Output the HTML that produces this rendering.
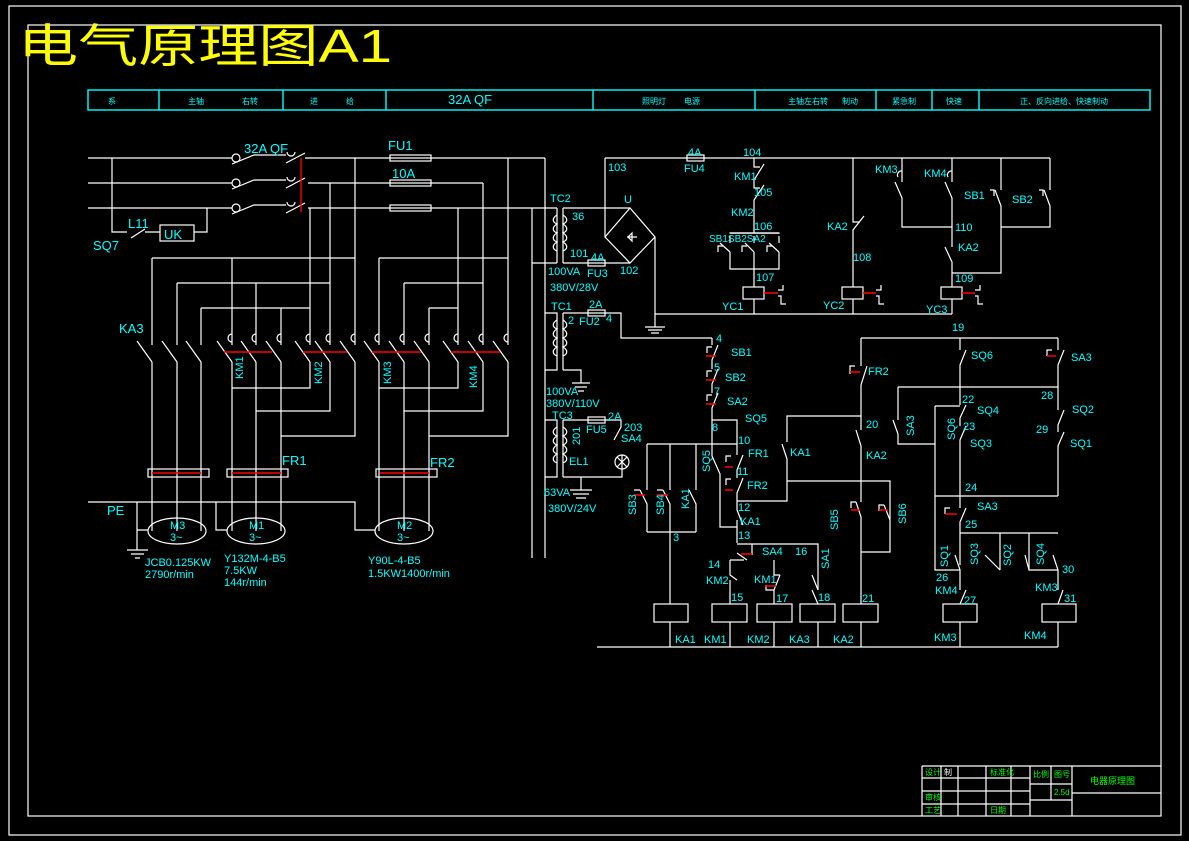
<!DOCTYPE html>
<html><head><meta charset="utf-8"><style>
html,body{margin:0;padding:0;background:#000;}
svg{display:block;}
text{font-family:"Liberation Sans","Noto Sans CJK SC",sans-serif;fill:#00ffff;font-size:11px;}
.w{stroke:#fff;stroke-width:1.2;fill:none;}
.r{stroke:#ff0000;stroke-width:1.4;fill:none;}
.c{stroke:#00ffff;stroke-width:1.4;fill:none;}
.g{fill:#00ff00;font-size:8px;}
.h{font-size:8px;}
</style></head><body>
<svg width="1189" height="841" viewBox="0 0 1189 841" xmlns="http://www.w3.org/2000/svg">
<rect x="0" y="0" width="1189" height="841" fill="#000"/>
<!-- frames -->
<rect class="w" x="9" y="6" width="1172" height="829"/>
<rect class="w" x="28" y="25" width="1133" height="791"/>
<text x="18" y="62" style="fill:#ffff00;font-size:46px;" textLength="374" lengthAdjust="spacingAndGlyphs">电气原理图A1</text>

<!-- header table -->
<rect class="c" x="88" y="90" width="1062" height="20"/>
<path class="c" d="M159,90V110M283,90V110M386,90V110M593,90V110M755,90V110M876,90V110M932,90V110M979,90V110"/>
<text class="h" x="108" y="104">系</text>
<text class="h" x="188" y="104">主轴</text><text class="h" x="242" y="104">右转</text>
<text class="h" x="310" y="104">进</text><text class="h" x="346" y="104">给</text>
<text x="448" y="104" style="font-size:13px">32A  QF</text>
<text class="h" x="642" y="104">照明灯</text><text class="h" x="684" y="104">电源</text>
<text class="h" x="788" y="104">主轴左右转</text><text class="h" x="842" y="104">制动</text>
<text class="h" x="892" y="104">紧急制</text>
<text class="h" x="946" y="104">快速</text>
<text class="h" x="1020" y="104">正、反向进给、快速制动</text>

<!-- power buses -->
<path class="w" d="M88,158H232M88,183H232M88,208H232"/>
<g class="w">
<circle cx="236" cy="158" r="4"/><circle cx="236" cy="183" r="4"/><circle cx="236" cy="208" r="4"/>
<path d="M232,164L254,155H286M232,189L254,180H286M232,214L254,205H286"/>
<path d="M286,163L305,153M286,188L305,178M286,213L305,203"/>
<path d="M287,152a4,4 0 0 0 8,0M287,177a4,4 0 0 0 8,0M287,202a4,4 0 0 0 8,0"/>
<path d="M305,158H545M308,183H483M308,208H532"/>
<path d="M545,158V558M532,208V558"/>
<path d="M112,158V232H127M131,238L145,229M145,232H160M194,232H207V208"/>
<rect x="160" y="225" width="34" height="16"/>
</g>
<path class="r" d="M301,158V212"/>
<g fill="#000" class="w"><rect x="390" y="155" width="41" height="6"/><rect x="390" y="180" width="41" height="6"/><rect x="390" y="205" width="41" height="6"/></g>
<text x="244" y="153" style="font-size:13px">32A  QF</text>
<text x="388" y="150" style="font-size:13px">FU1</text>
<text x="392" y="178" style="font-size:13px">10A</text>
<text x="128" y="228" style="font-size:13px">L11</text>
<text x="164" y="239" style="font-size:13px">UK</text>
<text x="93" y="250" style="font-size:13px">SQ7</text>

<!-- drops and feeders -->
<path class="w" d="M355,158V345M330,183V345M310,208V345M508,158V345M483,183V345M458,208V345
M152,258H355M379,258H508M177,283H330M404,283H483M201,308H310M429,308H458
M152,258V345M177,283V345M201,308V345M232,258V345M256,283V345M281,308V345
M379,258V345M404,283V345M429,308V345"/>
<!-- contacts blades -->
<g class="w">
<path d="M137,341L152,362M162,341L177,362M186,341L201,362"/>
<path d="M217,341L232,362M241,341L256,362M266,341L281,362M295,341L310,362M315,341L330,362M340,341L355,362"/>
<path d="M364,341L379,362M389,341L404,362M414,341L429,362M443,341L458,362M468,341L483,362M493,341L508,362"/>
<path d="M232,334a4,4 0 0 0 0,8M256,334a4,4 0 0 0 0,8M281,334a4,4 0 0 0 0,8M310,334a4,4 0 0 0 0,8M330,334a4,4 0 0 0 0,8M355,334a4,4 0 0 0 0,8M379,334a4,4 0 0 0 0,8M404,334a4,4 0 0 0 0,8M429,334a4,4 0 0 0 0,8M458,334a4,4 0 0 0 0,8M483,334a4,4 0 0 0 0,8M508,334a4,4 0 0 0 0,8"/>
<path d="M152,362V531M177,362V531M201,362V531M232,362V531M256,362V531M281,362V531M379,362V531M404,362V531M429,362V531"/>
<path d="M310,362V388H232M330,362V411H256M355,362V436H281M458,362V388H379M483,362V411H404M508,362V436H429"/>
<rect x="148" y="469" width="61" height="8"/><rect x="227" y="469" width="61" height="8"/><rect x="376" y="469" width="61" height="8"/>
<path d="M88,502H355V530H375M137,502V550M137,530H148M216,502V530H227"/>
<path d="M127,550H148M131,554H144M135,558H140"/>
<ellipse cx="177" cy="531" rx="29" ry="13"/><ellipse cx="256" cy="531" rx="29" ry="13"/><ellipse cx="404" cy="531" rx="29" ry="13"/>
</g>
<path class="r" d="M224,352H272M303,352H347M372,352H421M451,352H500M152,473H201M232,473H281M380,473H429"/>
<text x="119" y="333" style="font-size:13px">KA3</text>
<text x="282" y="465" style="font-size:13px">FR1</text>
<text x="430" y="467" style="font-size:13px">FR2</text>
<text x="107" y="515" style="font-size:13px">PE</text>
<text transform="translate(243,379) rotate(-90)">KM1</text>
<text transform="translate(322,384) rotate(-90)">KM2</text>
<text transform="translate(391,384) rotate(-90)">KM3</text>
<text transform="translate(477,388) rotate(-90)">KM4</text>
<text x="170" y="529">M3</text><text x="170" y="541">3~</text>
<text x="249" y="529">M1</text><text x="249" y="541">3~</text>
<text x="397" y="529">M2</text><text x="397" y="541">3~</text>
<text x="145" y="566">JCB0.125KW</text><text x="145" y="578">2790r/min</text>
<text x="224" y="562">Y132M-4-B5</text><text x="224" y="574">7.5KW</text><text x="224" y="586">144r/min</text>
<text x="368" y="564">Y90L-4-B5</text><text x="368" y="577">1.5KW1400r/min</text>

<!-- transformers -->
<g class="w">
<path d="M532,208H557M532,263H557M557,208V263M563,208V263M545,313H557V370H545M563,313V370M545,420H557V477H545M563,420V477"/>
<path d="M557,215c-5,3 -5,7 0,9c-5,3 -5,7 0,9c-5,3 -5,7 0,9c-5,3 -5,7 0,9M563,215c5,3 5,7 0,9c5,3 5,7 0,9c5,3 5,7 0,9c5,3 5,7 0,9"/>
<path d="M557,320c-5,3 -5,7 0,9c-5,3 -5,7 0,9c-5,3 -5,7 0,9c-5,3 -5,7 0,9M563,320c5,3 5,7 0,9c5,3 5,7 0,9c5,3 5,7 0,9c5,3 5,7 0,9"/>
<path d="M557,427c-5,3 -5,7 0,9c-5,3 -5,7 0,9c-5,3 -5,7 0,9c-5,3 -5,7 0,9M563,427c5,3 5,7 0,9c5,3 5,7 0,9c5,3 5,7 0,9c5,3 5,7 0,9"/>
<path d="M563,208H630M563,263H630M605,158V237M630,208L605,237L630,263L655,237ZM655,237V314H952M645,327H665M648,330H662M651,333H659M655,314V327"/>
<path d="M627,237H637M632,233L628,237L632,241ZM632,233V241"/>
<path d="M563,313H621V338H712M563,370H581V383M572,383H590M575,387H587M578,391H584"/>
<path d="M563,420H621V427L614,440M622,455V477H563M581,477V490M570,490H592M573,494H589M576,498H586"/>
<circle cx="622" cy="462" r="7"/><path d="M617,457L627,467M627,457L617,467"/>
<path d="M605,158H1050"/>
</g>
<g fill="#000" class="w"><rect x="588" y="260" width="17" height="6"/><rect x="588" y="310" width="17" height="6"/><rect x="588" y="417" width="17" height="6"/><rect x="687" y="155" width="17" height="6"/></g>
<text x="550" y="202">TC2</text><text x="572" y="220">36</text><text x="570" y="257">101</text>
<text x="591" y="261">4A</text><text x="587" y="277">FU3</text><text x="620" y="274">102</text>
<text x="548" y="275">100VA</text><text x="550" y="291">380V/28V</text>
<text x="624" y="203">U</text><text x="608" y="171">103</text>
<text x="688" y="156">4A</text><text x="684" y="172">FU4</text><text x="743" y="156">104</text>
<text x="551" y="310">TC1</text><text x="589" y="308">2A</text><text x="568" y="324">2</text><text x="579" y="325">FU2</text><text x="606" y="322">4</text>
<text x="546" y="395">100VA</text><text x="546" y="407">380V/110V</text>
<text x="552" y="419">TC3</text><text x="608" y="420">2A</text><text x="586" y="433">FU5</text><text x="624" y="431">203</text><text x="621" y="442">SA4</text>
<text transform="translate(580,445) rotate(-90)">201</text><text x="569" y="465">EL1</text>
<text x="544" y="496">63VA</text><text x="548" y="512">380V/24V</text>

<!-- top control -->
<g class="w">
<path d="M754,158V167H760M764,164L754,180V188H760M764,185L754,200V233"/>
<rect x="730" y="233" width="49" height="0.1"/>
<path d="M730,233H779M730,236V243M754,236V243M779,236V243M730,252L720,243M754,252L745,243M779,252L769,243M730,252V269H779V252M754,252V287M723,246H718V252M747,246H742V252M772,246H767V252"/>
<rect x="743" y="287" width="21" height="12"/><path d="M754,299V314"/>
<path d="M853,158V222H860M864,216L853,230V287"/><rect x="842" y="287" width="21" height="12"/><path d="M853,299V314"/>
<path d="M902,158V182M895,182L902,198V227H952M952,158V182M945,182L952,198V247M945,247L952,262V287"/><rect x="941" y="287" width="21" height="12"/><path d="M952,299V314"/>
<path d="M1001,158V190M995,190L1001,206V273H952M1050,158V190M1044,190L1050,206V227H1001"/>
<path d="M898,177a4,4 0 0 1 4,-6M948,177a4,4 0 0 1 4,-6"/>
<path d="M990,190h4v6M1039,190h4v6"/>
<path d="M778,290h5v-5M778,296h3v8h5M876,290h5v-5M876,296h3v8h5M975,290h5v-5M975,296h3v8h5"/>
</g>
<path class="r" d="M764,293H778M863,293H876M962,293H975"/>
<text x="734" y="180">KM1</text><text x="754" y="196">105</text><text x="731" y="216">KM2</text><text x="754" y="230">106</text>
<text x="709" y="242" style="font-size:10px">SB1SB2SA2</text>
<text x="756" y="281">107</text><text x="722" y="310">YC1</text>
<text x="827" y="230">KA2</text><text x="853" y="261">108</text><text x="823" y="309">YC2</text>
<text x="875" y="173">KM3</text><text x="924" y="177">KM4</text><text x="964" y="199">SB1</text><text x="1012" y="203">SB2</text>
<text x="955" y="231">110</text><text x="958" y="251">KA2</text><text x="955" y="282">109</text><text x="926" y="313">YC3</text>

<!-- lower control -->
<g class="w">
<path d="M712,338V345M718,345L712,360V369M718,369L712,384V393M718,393L712,408V420H737V425L737,440V444"/>
<path d="M647,444H737M712,420V456L720,474V527H737"/>
<path d="M647,444V490M640,490L647,504V532M670,444V490M663,490L670,504V532M696,444V490M689,490L696,504V532M647,532H696M670,532V604"/>
<path d="M737,444V455M743,455L737,470V478M743,478L737,493V505M737,505V510L743,525M737,520V543"/>
<path d="M737,501H787V459L782,444M787,442V416H861"/>
<path d="M787,481H890V520M890,520L884,505M890,520V552H861"/>
<path d="M861,338H1058M861,338V366M867,366L861,385V430M856,430L861,446V502M856,502L861,517V604"/>
<path d="M737,544H818V590M812,590L818,604M752,544V555M737,553L747,560M730,560H744M730,560V575L737,580M730,580V604M774,560V575H780M780,575L774,590V604"/>
<path d="M818,590L812,575"/>
<rect x="654" y="604" width="34" height="18"/><rect x="712" y="604" width="35" height="18"/><rect x="757" y="604" width="35" height="18"/><rect x="800" y="604" width="35" height="18"/><rect x="843" y="604" width="35" height="18"/>
<rect x="943" y="604" width="34" height="18"/><rect x="1042" y="604" width="34" height="18"/>
<path d="M597,647H1058M670,622V647M730,622V647M774,622V647M818,622V647M861,622V647M960,622V647M1058,622V647"/>
<path d="M960,338V350M966,350L960,365V387M1058,338V350M1064,350L1058,365V387M898,387H1058M898,387V420M893,420L898,434V444H935M935,406V570H960V586M960,406H935"/>
<path d="M960,387V405M966,405L960,418V426M966,426L960,440V496M1058,387V410M1064,410L1058,425V432M1064,432L1058,446V496M935,496H1058M960,496V508M966,508L960,522V533H1058M960,533V565M1000,533V570M1029,533V570H1058M985,555L1000,570M955,555L960,570M1025,555L1029,570M1053,555L1058,570V590M1063,590L1058,604M960,586V590M966,590L960,604"/>
<path d="M712,347h-5v6M712,371h-5v6M712,395h-5v6M731,456h-5v6M731,479h-5v6M640,490h-6M663,490h-6M855,366h-5v8M856,502h-5v6M884,505h-5v6M1052,350h-5v6M950,508h-5v6M774,590h-8v-5"/>
</g>
<path class="r" d="M706,356H716M706,380H716M706,404H716M634,495H645M657,495H668M725,467H733M725,490H733M850,372H860M851,510H860M879,510H888M1047,356H1056M945,514H957M741,554H752M765,586H776"/>
<text x="716" y="342">4</text><text x="731" y="356">SB1</text><text x="714" y="371">5</text><text x="725" y="381">SB2</text><text x="714" y="395">7</text><text x="727" y="405">SA2</text>
<text x="712" y="431">8</text><text x="745" y="422">SQ5</text><text x="738" y="444">10</text>
<text x="748" y="457">FR1</text><text x="737" y="475">11</text><text x="747" y="489">FR2</text><text x="738" y="511">12</text><text x="740" y="525">KA1</text><text x="738" y="539">13</text>
<text transform="translate(710,472) rotate(-90)">SQ5</text>
<text x="790" y="456">KA1</text><text x="866" y="428">20</text><text x="866" y="459">KA2</text><text x="868" y="375">FR2</text>
<text transform="translate(636,515) rotate(-90)">SB3</text><text transform="translate(664,515) rotate(-90)">SB4</text><text transform="translate(689,509) rotate(-90)">KA1</text>
<text x="673" y="541">3</text>
<text transform="translate(838,530) rotate(-90)">SB5</text><text transform="translate(906,524) rotate(-90)">SB6</text>
<text x="762" y="555">SA4</text><text x="795" y="555">16</text><text transform="translate(829,569) rotate(-90)">SA1</text>
<text x="708" y="568">14</text><text x="706" y="584">KM2</text><text x="754" y="583">KM1</text>
<text x="731" y="601">15</text><text x="776" y="602">17</text><text x="818" y="601">18</text><text x="862" y="602">21</text>
<text x="675" y="643">KA1</text><text x="704" y="643">KM1</text><text x="747" y="643">KM2</text><text x="789" y="643">KA3</text><text x="833" y="643">KA2</text><text x="934" y="641">KM3</text><text x="1024" y="639">KM4</text>
<text x="952" y="331">19</text><text x="971" y="359">SQ6</text><text x="1071" y="361">SA3</text>
<text x="962" y="403">22</text><text x="1041" y="399">28</text><text x="977" y="414">SQ4</text><text x="1072" y="413">SQ2</text>
<text x="963" y="430">23</text><text x="1036" y="433">29</text><text x="970" y="447">SQ3</text><text x="1070" y="447">SQ1</text>
<text transform="translate(914,436) rotate(-90)">SA3</text><text transform="translate(955,440) rotate(-90)">SQ6</text>
<text x="965" y="491">24</text><text x="977" y="510">SA3</text><text x="965" y="528">25</text>
<text transform="translate(948,567) rotate(-90)">SQ1</text><text transform="translate(978,565) rotate(-90)">SQ3</text>
<text transform="translate(1011,566) rotate(-90)">SQ2</text><text transform="translate(1044,565) rotate(-90)">SQ4</text>
<text x="936" y="581">26</text><text x="935" y="594">KM4</text><text x="964" y="604">27</text>
<text x="1062" y="573">30</text><text x="1035" y="591">KM3</text><text x="1064" y="602">31</text>

<!-- title block -->
<g class="w">
<path d="M922,766H1161M922,766V816M941,766V816M958,766V816M986,766V816M1011,766V816M1030,766V816M1051,766V800M1072,766V816"/>
<path d="M922,778H1030M922,791H1030M922,804H1030M1030,784H1072M1030,800H1072M1072,793H1161"/>
</g>
<text class="g" x="925" y="775">设计</text><text x="944" y="775" style="fill:#fff;font-size:8px">制</text>
<text class="g" x="990" y="775">标准化</text><text class="g" x="1033" y="777">比例</text><text class="g" x="1054" y="777">图号</text>
<text class="g" x="925" y="800">审核</text><text class="g" x="925" y="813">工艺</text><text class="g" x="990" y="813">日期</text>
<text class="g" x="1054" y="795">2.5d</text>
<text x="1090" y="784" style="fill:#00ff00;font-size:9px">电器原理图</text>
</svg>
</body></html>
